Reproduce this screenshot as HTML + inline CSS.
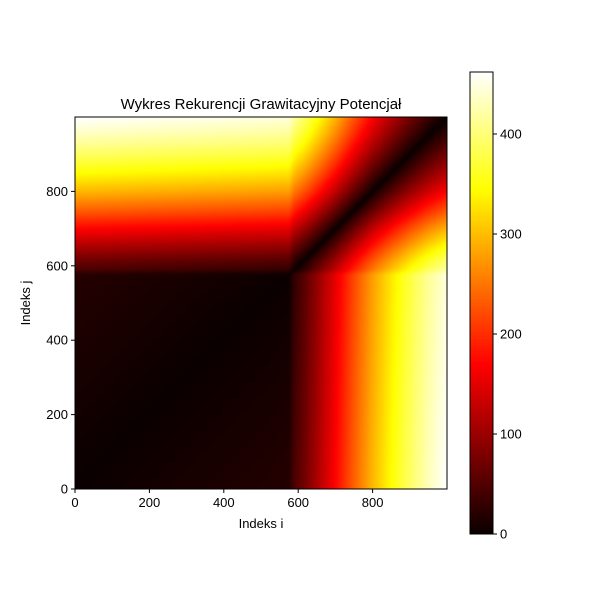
<!DOCTYPE html>
<html><head><meta charset="utf-8"><style>
body{margin:0;background:#fff;width:600px;height:600px;overflow:hidden;font-family:"Liberation Sans",sans-serif}
</style></head><body>
<svg id="svg" width="600" height="600" xmlns="http://www.w3.org/2000/svg">
<foreignObject x="75" y="117" width="372" height="372"><canvas id="hm" width="200" height="200" style="width:372px;height:372px;display:block" xmlns="http://www.w3.org/1999/xhtml"></canvas></foreignObject>
<foreignObject x="470" y="72" width="23" height="462"><canvas id="cb" width="1" height="462" style="width:23px;height:462px;display:block" xmlns="http://www.w3.org/1999/xhtml"></canvas></foreignObject>
</svg>
<script>
const signalT=[0,100,200,300,400,500,575,590,620,650,700,750,800,850,900,950,999];
const signalX=[0,3,6,9,12,15,18,45,75,110,170,235,295,345,390,430,462];
const xTicks=[0,200,400,600,800];
const yTicks=[0,200,400,600,800];
const cbTicks=[0,100,200,300,400];
const vmax=462,N=1000;
const px0=75,px1=447,py0=489,py1=117;
const sx=v=>px0+v/N*(px1-px0), sy=v=>py0-v/N*(py0-py1);
const cbY=v=>534-v/vmax*462;
function sig(t){for(let k=1;k<signalT.length;k++){if(t<=signalT[k]){const a=(t-signalT[k-1])/(signalT[k]-signalT[k-1]);return signalX[k-1]+a*(signalX[k]-signalX[k-1]);}}return signalX[signalX.length-1];}
function hot(v){const t=Math.max(0,Math.min(1,v/vmax));const r=Math.min(1,0.0416+t/0.365*0.9584),g=Math.max(0,Math.min(1,(t-0.365)/0.381)),b=Math.max(0,Math.min(1,(t-0.746)/0.254));return [r*255,g*255,b*255];}
const c=document.getElementById('hm');
const ctx=c.getContext('2d');const img=ctx.createImageData(200,200);
for(let r=0;r<200;r++){const j=(199-r)/199*999;const xj=sig(j);for(let q=0;q<200;q++){const i=q/199*999;const col=hot(Math.abs(sig(i)-xj));const o=(r*200+q)*4;img.data[o]=col[0];img.data[o+1]=col[1];img.data[o+2]=col[2];img.data[o+3]=255;}}
ctx.putImageData(img,0,0);
const cb=document.getElementById('cb');
const cc=cb.getContext('2d');for(let y=0;y<462;y++){const col=hot((461-y)/461*vmax);cc.fillStyle=`rgb(${col[0]|0},${col[1]|0},${col[2]|0})`;cc.fillRect(0,y,1,1);}
const svg=document.getElementById('svg');const NS='http://www.w3.org/2000/svg';
function el(t,a,txt){const e=document.createElementNS(NS,t);for(const k in a)e.setAttribute(k,a[k]);if(txt!=null)e.textContent=txt;svg.appendChild(e);return e;}
let e;
e=el('rect',{x:px0,y:py1,width:px1-px0,height:py0-py1,fill:'none',stroke:'#000','stroke-width':1});


e=el('rect',{x:470,y:72,width:23,height:462,fill:'none',stroke:'#000','stroke-width':1});


xTicks.forEach(v=>{const x=sx(v);el('line',{x1:x,x2:x,y1:py0,y2:py0+4,stroke:'#000'});
e=el('text',{x:x,y:py0+18,'text-anchor':'middle','font-size':13},String(v));

});
yTicks.forEach(v=>{const y=sy(v);el('line',{x1:px0-4,x2:px0,y1:y,y2:y,stroke:'#000'});
e=el('text',{x:px0-7,y:y+4.5,'text-anchor':'end','font-size':13},String(v));

});
cbTicks.forEach(v=>{const y=cbY(v);el('line',{x1:493,x2:497,y1:y,y2:y,stroke:'#000'});
e=el('text',{x:500,y:y+4.5,'font-size':13},String(v));

});
e=el('text',{x:261,y:109,'text-anchor':'middle','font-size':15},'Wykres Rekurencji Grawitacyjny Potencjał');


e=el('text',{x:261,y:528,'text-anchor':'middle','font-size':13},'Indeks i');


e=el('text',{x:30,y:303,'text-anchor':'middle','font-size':13,transform:'rotate(-90 30 303)'},'Indeks j');


</script>
</body></html>
